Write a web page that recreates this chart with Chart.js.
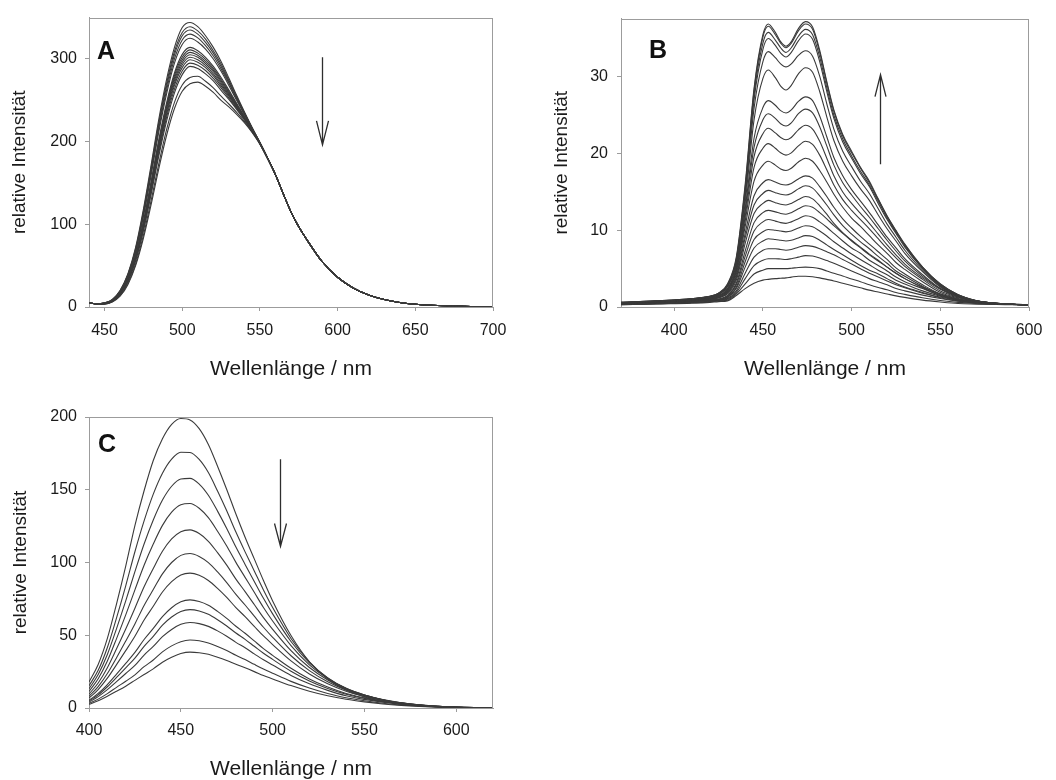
<!DOCTYPE html>
<html><head><meta charset="utf-8">
<script src="https://cdn.jsdelivr.net/npm/chart.js@4/dist/chart.umd.min.js"></script>
<style>
html,body{margin:0;padding:0;background:#fff;}
#wrap{position:relative;width:1056px;height:780px;overflow:hidden;background:#fff;}
canvas{position:absolute;}
</style></head><body>
<div id="wrap">
<canvas id="chartA" width="528" height="390" style="left:0;top:0"></canvas>
<canvas id="chartB" width="528" height="390" style="left:528px;top:0"></canvas>
<canvas id="chartC" width="528" height="390" style="left:0;top:390px"></canvas>
</div>
<script>
// ---------- texts ----------
const xTitle = 'Wellenlänge / nm';
const yTitle = 'relative Intensität';
const panelLabels = ['A', 'B', 'C'];

// ---------- tick labels ----------
const xTicksA = [450, 500, 550, 600, 650, 700];
const yTicksA = [0, 100, 200, 300];
const xTicksB = [400, 450, 500, 550, 600];
const yTicksB = [0, 10, 20, 30];
const xTicksC = [400, 450, 500, 550, 600];
const yTicksC = [0, 50, 100, 150, 200];

// ---------- panel A (wavelengths, shared start / tail, individual spectra 450-560 nm) ----------
const xA = [440, 445, 450, 455, 460, 465, 470, 475, 480, 485, 490, 495, 500, 505, 510, 515, 520, 525, 530, 535, 540, 545, 550, 555, 560,
            565, 570, 575, 580, 590, 600, 610, 620, 630, 640, 650, 660, 680, 700];
const headA = [5, 3.8];
const tailA = [137, 115, 97, 82, 55, 36, 23, 14.5, 9, 5.5, 3.3, 2.1, 0.9, 0.5];
const curvesA = [
  [5, 9, 20, 40, 72, 118, 172, 228, 276, 314, 338, 344, 339, 328, 314, 297, 277, 256, 236, 217, 199, 180, 160],
  [5, 9, 19.5, 39, 70.5, 115.5, 168.5, 224, 271, 309, 332, 339, 334, 324, 310, 294, 274.5, 254.5, 235, 216.5, 199, 180, 160],
  [4.9, 8.6, 19, 38.5, 69, 113.5, 166, 220.5, 267.5, 305, 328, 335, 330, 320, 307, 291, 272.5, 253, 234.5, 216, 199, 180, 160],
  [4.8, 8.4, 18.5, 37.5, 68, 111.5, 163, 216.5, 263, 300, 323, 330, 325.5, 316, 303.5, 288, 270.5, 251.5, 233.5, 216, 198.5, 180, 160],
  [4.7, 8.2, 18, 36.5, 66.5, 109, 159.5, 212.5, 258.5, 295, 317.5, 325, 320.5, 312, 300, 285, 268, 250, 232.5, 215.5, 198.5, 180, 160],
  [4.4, 7.7, 17, 34.5, 63, 103.5, 152, 203, 247.5, 283, 305.5, 314, 310, 302, 291, 277.5, 262.5, 246.5, 230.5, 214.5, 198, 179.5, 160],
  [4.3, 7.6, 17, 34, 62, 102, 150, 200.5, 244.5, 280, 302, 311, 307, 299.5, 288.5, 275.5, 261, 245.5, 230, 214, 198, 179.5, 160],
  [4.3, 7.5, 16.5, 33.5, 61, 100.5, 148, 198, 242, 277, 299, 308, 304.5, 297, 286.5, 273.5, 259.5, 244.5, 229.5, 214, 198, 179.5, 160],
  [4.2, 7.4, 16.2, 33, 60, 99, 146, 195.5, 239.5, 274, 296, 305, 302, 294.5, 284.5, 271.5, 258, 243.5, 229, 214, 198, 179.5, 160],
  [4.1, 7.3, 16, 32.5, 59, 97.5, 144, 193, 236.5, 271, 293, 302, 299, 292, 282, 269.5, 256.5, 242.5, 228.5, 213.5, 198, 179.5, 160],
  [4.0, 7.1, 15.5, 32, 58.5, 96, 142, 190.5, 233.5, 268, 289.5, 299, 296, 289.5, 279.5, 267.5, 255, 241.5, 228, 213.5, 198, 179.5, 160],
  [3.9, 7.0, 15.2, 31, 57, 94, 139.5, 187, 230, 263.5, 285.5, 295, 292.5, 286, 276.5, 265, 253, 240.5, 227, 213, 197.5, 179.5, 160],
  [3.8, 6.8, 14.8, 30.5, 55.5, 92, 136.5, 183.5, 225.5, 259, 281, 291, 288.5, 282, 273.5, 262, 251, 239, 226.5, 212.5, 197.5, 179.5, 160],
  [3.6, 6.3, 13.7, 28.5, 52, 86.5, 129, 174, 215, 247.5, 268.5, 277.5, 279, 273, 265, 255, 245.5, 235.5, 224.5, 211.5, 197, 179, 160],
  [3.5, 6, 13, 27, 50, 83, 124, 168, 208, 240, 261, 270, 272, 267, 259.5, 250, 242, 233, 223, 211, 197, 179, 160]
];
const arrowA = [590, 302, 196];

// ---------- panel B ----------
const xB = [370, 390, 410, 420, 425, 430, 435, 440, 445, 450, 453, 457, 460, 463, 466, 470, 474, 478, 482, 486, 490, 495, 500, 505, 510, 515, 520, 525, 530, 540, 550, 560, 570, 580, 590, 600];
const curvesB = [
  [0.6, 0.8, 1.1, 1.4, 1.8, 3.0, 6.5, 16, 28.5, 35.5, 36.9, 35.8, 34.6, 34.0, 34.6, 36.3, 37.2, 36.5, 33.5, 29.4, 25.7, 22.5, 20.3, 18.2, 16.4, 14.1, 11.9, 10.0, 8.2, 5.2, 3.0, 1.6, 0.85, 0.5, 0.35, 0.3],
  [0.6, 0.8, 1.1, 1.4, 1.8, 2.9, 6.3, 15.6, 28.2, 35.2, 36.6, 35.5, 34.4, 33.8, 34.4, 36.0, 36.9, 36.2, 33.2, 29.2, 25.5, 22.3, 20.1, 18.1, 16.2, 14.0, 11.8, 9.9, 8.1, 5.2, 3.0, 1.6, 0.85, 0.5, 0.35, 0.3],
  [0.6, 0.8, 1.05, 1.35, 1.75, 2.8, 6.1, 15.2, 27.6, 34.4, 35.8, 34.8, 33.8, 33.2, 33.8, 35.3, 36.2, 35.5, 32.6, 28.6, 25.0, 21.9, 19.7, 17.7, 15.9, 13.8, 11.6, 9.8, 8.0, 5.1, 2.9, 1.6, 0.85, 0.5, 0.35, 0.3],
  [0.55, 0.75, 1.05, 1.35, 1.7, 2.8, 6.0, 14.9, 27.0, 33.6, 35.0, 34.1, 33.1, 32.6, 33.2, 34.7, 35.6, 34.9, 32.0, 28.1, 24.6, 21.5, 19.4, 17.4, 15.7, 13.5, 11.4, 9.6, 7.8, 5.0, 2.8, 1.5, 0.8, 0.5, 0.35, 0.3],
  [0.55, 0.75, 1.0, 1.3, 1.6, 2.7, 5.8, 14.3, 25.9, 32.0, 33.3, 32.5, 31.7, 31.3, 31.7, 32.8, 33.4, 32.7, 30.1, 26.5, 23.2, 20.3, 18.3, 16.4, 14.8, 12.8, 10.8, 9.1, 7.4, 4.8, 2.7, 1.5, 0.8, 0.5, 0.35, 0.3],
  [0.55, 0.75, 1.0, 1.3, 1.6, 2.6, 5.5, 13.6, 24.4, 29.8, 30.9, 29.9, 28.8, 28.3, 28.9, 30.4, 31.2, 30.6, 28.1, 24.8, 21.7, 19.0, 17.1, 15.4, 13.9, 12.0, 10.2, 8.6, 7.0, 4.6, 2.6, 1.4, 0.8, 0.5, 0.35, 0.3],
  [0.5, 0.7, 1.0, 1.2, 1.5, 2.4, 5.2, 12.8, 22.0, 26.0, 26.9, 26.3, 25.6, 25.3, 25.7, 26.8, 27.4, 26.9, 24.9, 22.2, 19.5, 17.1, 15.3, 13.8, 12.3, 10.7, 9.1, 7.7, 6.3, 4.2, 2.4, 1.4, 0.8, 0.5, 0.35, 0.3],
  [0.5, 0.7, 0.95, 1.15, 1.45, 2.3, 5.0, 12.4, 20.8, 24.4, 25.2, 24.6, 23.9, 23.6, 24.0, 25.2, 25.8, 25.3, 23.5, 21.0, 18.5, 16.2, 14.6, 13.1, 11.7, 10.2, 8.7, 7.3, 6.0, 4.0, 2.4, 1.4, 0.8, 0.5, 0.35, 0.3],
  [0.5, 0.7, 0.95, 1.15, 1.4, 2.2, 4.8, 11.8, 19.6, 22.6, 23.3, 22.7, 22.1, 21.8, 22.1, 23.1, 23.7, 23.2, 21.6, 19.4, 17.1, 15.0, 13.5, 12.2, 10.9, 9.5, 8.1, 6.8, 5.6, 3.8, 2.3, 1.3, 0.75, 0.48, 0.35, 0.3],
  [0.5, 0.65, 0.9, 1.1, 1.4, 2.1, 4.6, 11.2, 18.2, 20.7, 21.3, 20.7, 20.1, 19.8, 20.1, 21.0, 21.6, 21.2, 19.8, 17.9, 15.9, 14.0, 12.6, 11.4, 10.2, 8.9, 7.6, 6.4, 5.3, 3.6, 2.1, 1.3, 0.75, 0.48, 0.35, 0.3],
  [0.45, 0.65, 0.9, 1.1, 1.3, 2.0, 4.3, 10.5, 16.4, 18.5, 19.0, 18.5, 18.0, 17.8, 18.1, 18.9, 19.4, 19.0, 17.8, 16.3, 14.7, 13.0, 11.6, 10.5, 9.3, 8.1, 7.0, 5.8, 4.9, 3.3, 1.9, 1.2, 0.7, 0.45, 0.35, 0.3],
  [0.45, 0.6, 0.85, 1.05, 1.25, 1.9, 4.0, 9.6, 14.5, 16.2, 16.6, 16.3, 16.0, 15.9, 16.1, 16.7, 17.1, 16.8, 15.7, 14.4, 13.0, 11.5, 10.3, 9.2, 8.2, 7.2, 6.2, 5.1, 4.3, 2.9, 1.7, 1.0, 0.65, 0.45, 0.35, 0.3],
  [0.45, 0.6, 0.85, 1.0, 1.2, 1.8, 3.8, 9.0, 13.3, 14.8, 15.2, 14.9, 14.7, 14.6, 14.8, 15.4, 15.8, 15.5, 14.5, 13.3, 12.0, 10.6, 9.5, 8.5, 7.6, 6.6, 5.7, 4.7, 4.0, 2.7, 1.6, 1.0, 0.65, 0.45, 0.35, 0.3],
  [0.4, 0.6, 0.8, 1.0, 1.2, 1.7, 3.5, 8.3, 12.2, 13.5, 13.9, 13.6, 13.4, 13.3, 13.5, 14.0, 14.4, 14.1, 13.2, 12.1, 10.9, 9.7, 8.7, 7.8, 6.9, 6.1, 5.2, 4.4, 3.7, 2.5, 1.5, 0.9, 0.6, 0.42, 0.35, 0.3],
  [0.4, 0.55, 0.75, 0.9, 1.05, 1.5, 3.1, 7.3, 11.0, 12.3, 12.6, 12.4, 12.2, 12.1, 12.3, 12.8, 13.2, 13.0, 12.3, 11.5, 10.6, 9.6, 8.6, 7.7, 6.8, 6.0, 5.2, 4.4, 3.7, 2.6, 1.7, 1.1, 0.65, 0.45, 0.35, 0.3],
  [0.4, 0.55, 0.75, 0.9, 1.0, 1.4, 2.9, 6.6, 9.9, 11.1, 11.4, 11.2, 11.0, 10.9, 11.1, 11.5, 11.9, 11.7, 11.1, 10.4, 9.6, 8.6, 7.7, 7.0, 6.1, 5.4, 4.7, 3.9, 3.3, 2.4, 1.5, 1.0, 0.62, 0.43, 0.35, 0.3],
  [0.4, 0.5, 0.7, 0.85, 1.0, 1.3, 2.6, 5.9, 8.8, 9.8, 10.1, 10.0, 9.9, 9.8, 9.9, 10.3, 10.6, 10.45, 9.9, 9.25, 8.5, 7.7, 6.9, 6.2, 5.5, 4.8, 4.2, 3.5, 3.0, 2.1, 1.4, 0.9, 0.6, 0.42, 0.34, 0.3],
  [0.4, 0.5, 0.7, 0.85, 0.95, 1.2, 2.4, 5.2, 7.7, 8.6, 8.9, 8.8, 8.7, 8.6, 8.7, 9.0, 9.3, 9.2, 8.7, 8.1, 7.5, 6.8, 6.1, 5.4, 4.8, 4.3, 3.7, 3.1, 2.6, 1.9, 1.2, 0.8, 0.55, 0.4, 0.33, 0.3],
  [0.35, 0.45, 0.6, 0.75, 0.9, 1.1, 2.1, 4.4, 6.5, 7.4, 7.6, 7.6, 7.5, 7.4, 7.5, 7.8, 8.0, 7.9, 7.6, 7.2, 6.8, 6.2, 5.6, 5.0, 4.4, 3.9, 3.4, 2.9, 2.5, 1.8, 1.3, 0.9, 0.6, 0.42, 0.35, 0.3],
  [0.35, 0.45, 0.6, 0.7, 0.85, 1.0, 1.9, 3.7, 5.4, 6.1, 6.3, 6.3, 6.25, 6.2, 6.3, 6.5, 6.7, 6.65, 6.4, 6.05, 5.7, 5.2, 4.7, 4.2, 3.7, 3.3, 2.9, 2.4, 2.1, 1.55, 1.1, 0.75, 0.52, 0.4, 0.33, 0.3],
  [0.3, 0.4, 0.55, 0.65, 0.8, 0.9, 1.7, 3.0, 4.3, 4.8, 5.0, 5.0, 5.0, 5.0, 5.05, 5.15, 5.2, 5.15, 5.0, 4.7, 4.4, 4.05, 3.65, 3.3, 2.9, 2.55, 2.25, 1.9, 1.65, 1.2, 0.85, 0.6, 0.45, 0.37, 0.32, 0.3],
  [0.3, 0.4, 0.5, 0.6, 0.7, 0.8, 1.5, 2.4, 3.1, 3.5, 3.6, 3.7, 3.75, 3.8, 3.9, 4.0, 4.0, 3.95, 3.8, 3.6, 3.4, 3.1, 2.8, 2.5, 2.2, 1.95, 1.7, 1.45, 1.25, 0.9, 0.65, 0.45, 0.38, 0.33, 0.3, 0.3]
];
const arrowB = [516, 18.6, 30.3];

// ---------- panel C ----------
const xC = [400, 405, 410, 415, 420, 425, 430, 435, 440, 445, 450, 455, 460, 465, 470, 475, 480, 485, 490, 495, 500, 510, 520, 530, 540, 550, 560, 570, 580, 590, 600, 610, 620];
const curvesC = [
  [17.9, 29.9, 47.8, 71.6, 97.5, 125.4, 149.3, 170.1, 185.1, 195, 199, 198, 192, 181.1, 166.2, 150.2, 133.3, 117.4, 102.5, 87.6, 73.6, 49.8, 31.8, 19.9, 12.3, 7.6, 4.6, 2.6, 1.5, 0.8, 0.4, 0.2, 0.1],
  [15.3, 25.9, 41.6, 62.0, 84.0, 107.4, 128.6, 147.0, 161.4, 171.1, 175.8, 175.6, 170.8, 161.8, 149.1, 135.5, 120.9, 107.3, 94.2, 81.1, 69.0, 47.8, 31.7, 20.6, 13.2, 8.5, 5.3, 3.1, 1.85, 1.0, 0.5, 0.25, 0.12],
  [13.2, 23.0, 36.8, 54.6, 73.6, 93.7, 112.7, 129.2, 142.9, 152.4, 157.4, 157.8, 153.9, 146.2, 135.3, 123.4, 110.6, 98.7, 87.0, 75.4, 64.7, 45.7, 31.0, 20.7, 13.6, 8.9, 5.7, 3.4, 2.1, 1.1, 0.55, 0.3, 0.15],
  [11.4, 20.1, 32.3, 47.7, 64.0, 81.2, 98.1, 112.7, 125.5, 134.6, 139.7, 140.5, 137.3, 130.8, 121.5, 111.3, 100.1, 89.8, 79.5, 69.1, 59.8, 42.9, 29.7, 20.2, 13.5, 9.0, 5.8, 3.6, 2.1, 1.2, 0.6, 0.3, 0.15],
  [9.6, 17.2, 27.7, 40.7, 54.3, 68.6, 83.3, 95.9, 107.7, 116.2, 121.2, 122.4, 119.9, 114.6, 106.8, 98.2, 88.6, 80.0, 71.1, 62.1, 54.1, 39.4, 27.8, 19.3, 13.0, 8.9, 5.7, 3.6, 2.2, 1.2, 0.6, 0.3, 0.15],
  [8.0, 14.7, 23.7, 34.6, 46.0, 57.8, 70.5, 81.4, 92.2, 100.0, 104.9, 106.2, 104.2, 99.9, 93.5, 86.2, 78.1, 70.8, 63.1, 55.5, 48.6, 35.9, 25.7, 18.0, 12.3, 8.5, 5.5, 3.5, 2.1, 1.2, 0.6, 0.3, 0.15],
  [6.8, 12.7, 20.5, 29.8, 39.4, 49.3, 60.5, 69.9, 79.7, 86.8, 91.4, 92.7, 91.2, 87.6, 82.2, 76.0, 69.0, 62.8, 56.1, 49.5, 43.6, 32.4, 23.4, 16.6, 11.5, 7.9, 5.2, 3.3, 2.0, 1.1, 0.56, 0.28, 0.14],
  [5.3, 10.0, 16.1, 23.3, 30.7, 38.2, 47.1, 54.7, 62.8, 68.9, 73.0, 74.3, 73.2, 70.6, 66.4, 61.6, 56.2, 51.4, 46.1, 40.8, 36.2, 27.3, 20.0, 14.4, 10.0, 7.0, 4.6, 2.9, 1.8, 1.0, 0.5, 0.25, 0.12],
  [4.7, 9.0, 14.6, 21.0, 27.6, 34.3, 42.4, 49.3, 56.9, 62.5, 66.3, 67.6, 66.7, 64.4, 60.7, 56.4, 51.5, 47.2, 42.4, 37.6, 33.4, 25.3, 18.6, 13.4, 9.4, 6.6, 4.3, 2.8, 1.7, 0.9, 0.47, 0.23, 0.12],
  [4.0, 7.8, 12.6, 18.1, 23.7, 29.3, 36.4, 42.3, 49.0, 54.0, 57.5, 58.8, 58.0, 56.1, 53.0, 49.3, 45.1, 41.4, 37.2, 33.1, 29.5, 22.4, 16.6, 12.1, 8.4, 5.9, 3.9, 2.5, 1.5, 0.85, 0.43, 0.22, 0.11],
  [3.1, 6.1, 9.9, 14.2, 18.4, 22.8, 28.4, 33.0, 38.6, 42.7, 45.6, 46.7, 46.2, 44.7, 42.3, 39.5, 36.2, 33.3, 30.0, 26.8, 23.9, 18.3, 13.7, 10.0, 7.0, 5.0, 3.3, 2.1, 1.3, 0.72, 0.36, 0.18, 0.09],
  [2.5, 5.0, 8.1, 11.5, 15.0, 19.0, 23.0, 26.9, 31.5, 34.9, 37.4, 38.4, 38.0, 36.9, 34.9, 32.6, 30.0, 27.6, 25.0, 22.3, 20.0, 15.4, 11.5, 8.4, 6.0, 4.2, 2.8, 1.8, 1.1, 0.6, 0.3, 0.15, 0.08]
];
const arrowC = [504, 171, 111];

// ---------- styling ----------
const FONT = '"Liberation Sans", Arial, Helvetica, sans-serif';
Chart.defaults.font.family = FONT;
const frameColor = '#9c9c9c';
const lineColor = '#3a3a3a';
const textColor = '#1a1a1a';

function toPoints(xs, ys) { return xs.map((x, i) => ({ x: x, y: ys[i] })); }

const decor = {
  id: 'decor',
  afterDatasetsDraw(chart, args, o) {
    const { ctx, chartArea: ca } = chart;
    const sx = chart.scales.x, sy = chart.scales.y;
    ctx.save();
    ctx.strokeStyle = frameColor; ctx.lineWidth = 1;
    ctx.beginPath();
    ctx.moveTo(Math.round(ca.left), Math.round(ca.top) + 0.5);
    ctx.lineTo(Math.round(ca.right), Math.round(ca.top) + 0.5);
    ctx.moveTo(Math.round(ca.right) - 0.5, Math.round(ca.top));
    ctx.lineTo(Math.round(ca.right) - 0.5, Math.round(ca.bottom));
    ctx.stroke();
    const a = o.arrow;
    const px = Math.round(sx.getPixelForValue(a[0])) + 0.5;
    const p0 = sy.getPixelForValue(a[1]);
    const p1 = sy.getPixelForValue(a[2]);
    const dir = p1 > p0 ? 1 : -1;
    ctx.strokeStyle = '#2e2e2e'; ctx.lineWidth = 1.3;
    ctx.beginPath();
    ctx.moveTo(px, p0); ctx.lineTo(px, p1);
    ctx.moveTo(px - o.headW, p1 - dir * o.headL);
    ctx.lineTo(px, p1);
    ctx.lineTo(px + o.headW, p1 - dir * o.headL);
    ctx.stroke();
    ctx.fillStyle = '#111';
    ctx.font = 'bold 25px ' + FONT;
    ctx.textBaseline = 'alphabetic';
    ctx.textAlign = 'left';
    ctx.fillText(o.label, ca.left + o.dx, ca.top + o.dy);
    ctx.restore();
  }
};

function makeChart(id, xs, series, c) {
  return new Chart(document.getElementById(id), {
    type: 'line',
    data: {
      datasets: series.map(ys => ({
        data: toPoints(xs, ys),
        borderColor: lineColor,
        borderWidth: 1.1,
        pointRadius: 0,
        fill: false,
        cubicInterpolationMode: 'monotone'
      }))
    },
    options: {
      responsive: false,
      animation: false,
      events: [],
      layout: { padding: c.padding },
      plugins: {
        legend: { display: false },
        tooltip: { enabled: false },
        decor: c.decor
      },
      scales: {
        x: {
          type: 'linear', min: c.xMin, max: c.xMax,
          afterBuildTicks: s => { s.ticks = c.xTicks.map(v => ({ value: v })); },
          afterFit: s => { s.height = c.xAxisH; },
          grid: { drawOnChartArea: false, drawTicks: true, tickLength: 4, color: frameColor },
          border: { display: true, color: frameColor },
          ticks: { padding: c.xTickPad, color: textColor, font: { size: 16 }, maxRotation: 0, autoSkip: false },
          title: { display: true, text: xTitle, color: textColor, font: { size: 21, lineHeight: 1 }, padding: { top: 0, bottom: c.xTitlePad } }
        },
        y: {
          type: 'linear', min: c.yMin, max: c.yMax,
          afterBuildTicks: s => { s.ticks = c.yTicks.map(v => ({ value: v })); },
          afterFit: s => { s.width = c.yAxisW; },
          grid: { drawOnChartArea: false, drawTicks: true, tickLength: 4, color: frameColor },
          border: { display: true, color: frameColor },
          ticks: { padding: c.yTickPad, color: textColor, font: { size: 16 }, autoSkip: false },
          title: { display: true, text: yTitle, color: textColor, font: { size: 19, lineHeight: 1 }, padding: { top: c.yTitlePad, bottom: 0 } }
        }
      }
    },
    plugins: [decor]
  });
}

makeChart('chartA', xA, curvesA.map(c => headA.concat(c, tailA)), {
  padding: { top: 16, right: 35, left: 0, bottom: 0 },
  xMin: 440, xMax: 700, yMin: 0, yMax: 350,
  xTicks: xTicksA, yTicks: yTicksA,
  xAxisH: 83, yAxisW: 89, xTickPad: 9.5, yTickPad: 8, xTitlePad: 10.5, yTitlePad: 10,
  decor: { arrow: arrowA, headW: 6, headL: 24, label: panelLabels[0], dx: 8, dy: 41 }
});

makeChart('chartB', xB, curvesB, {
  padding: { top: 16, right: 27, left: 0, bottom: 0 },
  xMin: 370, xMax: 600, yMin: 0, yMax: 37.6,
  xTicks: xTicksB, yTicks: yTicksB,
  xAxisH: 83, yAxisW: 93, xTickPad: 9.5, yTickPad: 9, xTitlePad: 10.5, yTitlePad: 24.5,
  decor: { arrow: arrowB, headW: 5.5, headL: 22, label: panelLabels[1], dx: 28, dy: 39 }
});

makeChart('chartC', xC, curvesC, {
  padding: { top: 27, right: 35, left: 0, bottom: 0 },
  xMin: 400, xMax: 620, yMin: 0, yMax: 200,
  xTicks: xTicksC, yTicks: yTicksC,
  xAxisH: 72, yAxisW: 89, xTickPad: 8.5, yTickPad: 8, xTitlePad: 0.5, yTitlePad: 11.5,
  decor: { arrow: arrowC, headW: 6, headL: 23, label: panelLabels[2], dx: 9, dy: 35 }
});
</script>
</body></html>
